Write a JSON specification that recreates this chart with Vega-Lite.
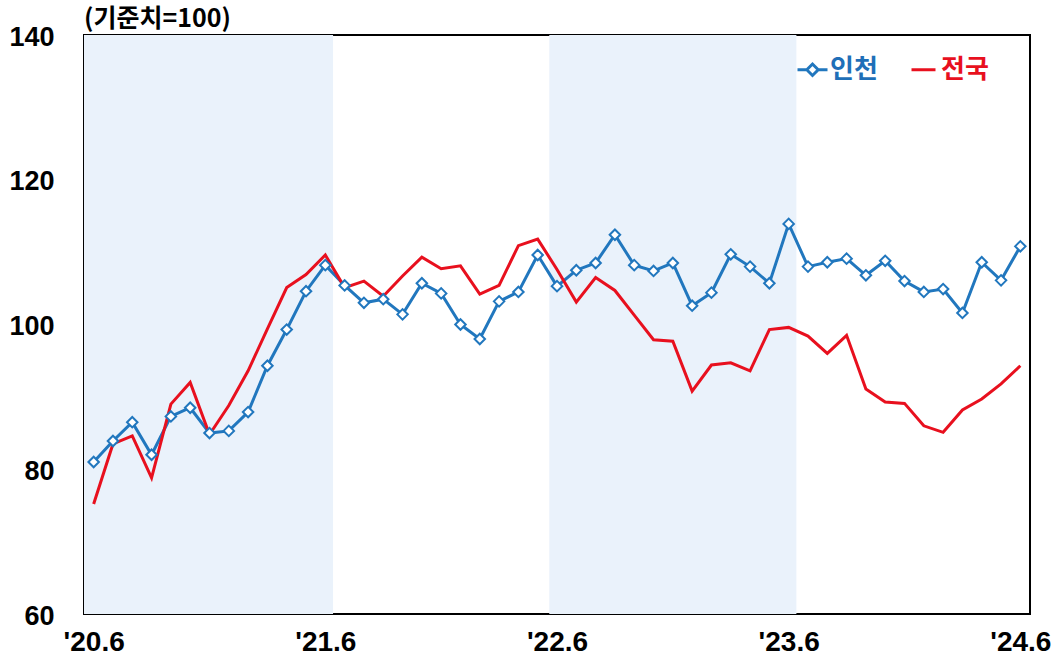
{
  "$schema": "https://vega.github.io/schema/vega-lite/v6.json",
  "autosize": "none",
  "width": 946,
  "height": 579,
  "padding": {"left": 84, "top": 35, "right": 30, "bottom": 44},
  "background": "white",
  "config": {
    "view": {"stroke": "#000000", "strokeWidth": 2},
    "axis": {"grid": false, "domain": false, "ticks": false}
  },
  "title": {
    "text": "(기준치=100)",
    "anchor": "start",
    "frame": "group",
    "font": "Noto Sans CJK KR",
    "fontWeight": "bold",
    "fontSize": 25,
    "color": "#000000",
    "offset": -9
  },
  "datasets": {
    "periods": [
      {"start": -0.5, "end": 12.4},
      {"start": 23.6, "end": 36.4}
    ],
    "series": [
      {"i": 0, "인천": 81.0, "전국": 75.2},
      {"i": 1, "인천": 83.9, "전국": 83.5},
      {"i": 2, "인천": 86.5, "전국": 84.6},
      {"i": 3, "인천": 82.0, "전국": 78.8},
      {"i": 4, "인천": 87.3, "전국": 89.0},
      {"i": 5, "인천": 88.5, "전국": 92.0},
      {"i": 6, "인천": 85.0, "전국": 84.8},
      {"i": 7, "인천": 85.3, "전국": 88.8},
      {"i": 8, "인천": 87.9, "전국": 93.6},
      {"i": 9, "인천": 94.3, "전국": 99.4},
      {"i": 10, "인천": 99.3, "전국": 105.1},
      {"i": 11, "인천": 104.6, "전국": 106.9},
      {"i": 12, "인천": 108.2, "전국": 109.6},
      {"i": 13, "인천": 105.4, "전국": 105.1},
      {"i": 14, "인천": 103.0, "전국": 106.0},
      {"i": 15, "인천": 103.5, "전국": 103.9},
      {"i": 16, "인천": 101.4, "전국": 106.7},
      {"i": 17, "인천": 105.7, "전국": 109.3},
      {"i": 18, "인천": 104.3, "전국": 107.7},
      {"i": 19, "인천": 100.0, "전국": 108.1},
      {"i": 20, "인천": 98.0, "전국": 104.2},
      {"i": 21, "인천": 103.2, "전국": 105.4},
      {"i": 22, "인천": 104.5, "전국": 110.9},
      {"i": 23, "인천": 109.6, "전국": 111.8},
      {"i": 24, "인천": 105.3, "전국": 107.6},
      {"i": 25, "인천": 107.5, "전국": 103.1},
      {"i": 26, "인천": 108.5, "전국": 106.5},
      {"i": 27, "인천": 112.4, "전국": 104.7},
      {"i": 28, "인천": 108.2, "전국": 101.3},
      {"i": 29, "인천": 107.4, "전국": 97.9},
      {"i": 30, "인천": 108.5, "전국": 97.7},
      {"i": 31, "인천": 102.6, "전국": 90.8},
      {"i": 32, "인천": 104.4, "전국": 94.4},
      {"i": 33, "인천": 109.7, "전국": 94.7},
      {"i": 34, "인천": 108.0, "전국": 93.6},
      {"i": 35, "인천": 105.7, "전국": 99.3},
      {"i": 36, "인천": 113.9, "전국": 99.6},
      {"i": 37, "인천": 108.0, "전국": 98.4},
      {"i": 38, "인천": 108.6, "전국": 96.0},
      {"i": 39, "인천": 109.1, "전국": 98.5},
      {"i": 40, "인천": 106.8, "전국": 91.1},
      {"i": 41, "인천": 108.8, "전국": 89.3},
      {"i": 42, "인천": 106.0, "전국": 89.1},
      {"i": 43, "인천": 104.5, "전국": 86.0},
      {"i": 44, "인천": 104.9, "전국": 85.1},
      {"i": 45, "인천": 101.6, "전국": 88.2},
      {"i": 46, "인천": 108.6, "전국": 89.7},
      {"i": 47, "인천": 106.1, "전국": 91.8},
      {"i": 48, "인천": 110.8, "전국": 94.3}
    ]
  },
  "layer": [
    {
      "data": {"name": "periods"},
      "mark": {"type": "rect", "color": "#EAF2FB"},
      "encoding": {
        "x": {"field": "start", "type": "quantitative", "scale": {"domain": [-0.5, 48.5], "nice": false, "zero": false}},
        "x2": {"field": "end"}
      }
    },
    {
      "mark": {"type": "rule", "color": "#000000", "strokeWidth": 1},
      "encoding": {"y": {"datum": 100, "type": "quantitative"}}
    },
    {
      "data": {"name": "series"},
      "transform": [{"fold": ["인천", "전국"], "as": ["region", "value"]}],
      "layer": [
        {
          "mark": {"type": "line", "strokeWidth": 3},
          "encoding": {
            "x": {
              "field": "i", "type": "quantitative",
              "scale": {"domain": [-0.5, 48.5], "nice": false, "zero": false},
              "axis": {
                "title": null,
                "values": [0, 12, 24, 36, 48],
                "labelExpr": "\"'\" + (20 + datum.value / 12) + '.6'",
                "labelFont": "Liberation Sans",
                "labelFontWeight": "bold",
                "labelFontSize": 28,
                "labelColor": "#000000",
                "labelBaseline": "middle",
                "labelPadding": 28,
                "labelFlush": false,
                "labelOverlap": false
              }
            },
            "y": {
              "field": "value", "type": "quantitative",
              "scale": {"domain": [60, 140], "nice": false, "zero": false},
              "axis": {
                "title": null,
                "values": [60, 80, 100, 120, 140],
                "labelFont": "Liberation Sans",
                "labelFontWeight": "bold",
                "labelFontSize": 27,
                "labelColor": "#000000",
                "labelPadding": 30,
                "labelOffset": 2
              }
            },
            "color": {
              "field": "region", "type": "nominal",
              "scale": {"domain": ["인천", "전국"], "range": ["#2177BE", "#E8101E"]},
              "legend": {
                "title": null,
                "orient": "none",
                "legendX": 712,
                "legendY": 18,
                "direction": "horizontal",
                "padding": 0,
                "symbolSize": 900,
                "symbolStrokeWidth": 3,
                "labelFont": "Noto Sans CJK KR",
                "labelFontWeight": "bold",
                "labelFontSize": 26,
                "labelOffset": 1,
                "columnPadding": 27,
                "encode": {
                  "symbols": {
                    "update": {
                      "shape": {"signal": "datum.value === '인천' ? 'M-1,0L-0.38,0L0,-0.38L0.38,0L0,0.38L-0.38,0M0.38,0L1,0' : 'M-0.8,0L0.8,0'"},
                      "fill": {"value": "transparent"}
                    }
                  },
                  "labels": {
                    "update": {
                      "fill": {"signal": "datum.value === '인천' ? '#1F6FB8' : '#E8101E'"}
                    }
                  }
                }
              }
            }
          }
        },
        {
          "transform": [{"filter": "datum.region === '인천'"}],
          "mark": {"type": "point", "shape": "diamond", "filled": true, "fill": "#FFFFFF", "stroke": "#2177BE", "strokeWidth": 2, "size": 110, "opacity": 1},
          "encoding": {
            "x": {"field": "i", "type": "quantitative"},
            "y": {"field": "value", "type": "quantitative"}
          }
        }
      ]
    }
  ]
}
